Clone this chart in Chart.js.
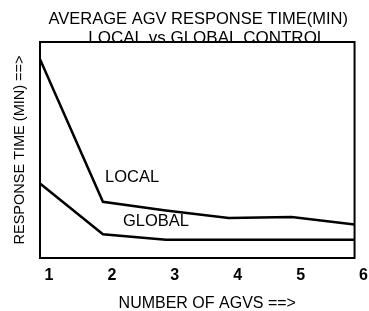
<!DOCTYPE html>
<html>
<head>
<meta charset="utf-8">
<script src="https://cdn.jsdelivr.net/npm/chart.js@4/dist/chart.umd.min.js"></script>
<style>
  html, body { margin: 0; padding: 0; background: #fff; }
  #wrap { width: 369px; height: 311px; }
</style>
</head>
<body>
<div id="wrap"><canvas id="c" width="369" height="311"></canvas></div>
<script>
// number of AGVs
const agvCounts = ['1', '2', '3', '4', '5', '6'];
// response time (min)
const localTimes = [18.4, 5.2, 4.4, 3.7, 3.8, 3.1];
const globalTimes = [6.9, 2.2, 1.7, 1.7, 1.7, 1.7];
const titleLines = ['AVERAGE AGV RESPONSE TIME(MIN)', 'LOCAL vs GLOBAL CONTROL'];
const xTitle = 'NUMBER OF AGVS ==>';

const FONT = '"Liberation Sans", Arial, sans-serif';

// box around plot + titles + series names
const decor = {
  id: 'decor',
  afterDraw(chart) {
    const ctx = chart.ctx, a = chart.chartArea;
    const x = chart.scales.x, y = chart.scales.y;
    const mid = (a.left + a.right) / 2;
    ctx.save();
    ctx.fillStyle = '#000';
    ctx.textAlign = 'center';
    ctx.textBaseline = 'alphabetic';
    ctx.font = '16.5px ' + FONT;
    ctx.fillText(titleLines[0], mid + 1, 24);
    ctx.font = '17px ' + FONT;
    ctx.fillText(titleLines[1], mid + 10, 43);
    ctx.font = '16px ' + FONT;
    ctx.fillText(xTitle, mid + 10, 308);

    ctx.strokeStyle = '#000';
    ctx.lineWidth = 2;
    ctx.strokeRect(a.left, a.top, a.right - a.left, a.bottom - a.top);

    ctx.textAlign = 'left';
    ctx.textBaseline = 'middle';
    ctx.font = '16.5px ' + FONT;
    ctx.fillText('LOCAL', x.getPixelForValue(0) + 65, y.getPixelForValue(localTimes[1]) - 24);
    ctx.fillText('GLOBAL', x.getPixelForValue(1) + 20, y.getPixelForValue(globalTimes[2]) - 18);
    ctx.restore();
  }
};

new Chart(document.getElementById('c'), {
  type: 'line',
  data: {
    labels: agvCounts,
    datasets: [{
      label: 'LOCAL',
      data: localTimes,
      borderColor: '#000',
      borderWidth: 2.5,
      pointRadius: 0,
      tension: 0,
      fill: false
    }, {
      label: 'GLOBAL',
      data: globalTimes,
      borderColor: '#000',
      borderWidth: 2.5,
      pointRadius: 0,
      tension: 0,
      fill: false
    }]
  },
  options: {
    responsive: false,
    animation: false,
    layout: { padding: { top: 42, right: 11, left: 0, bottom: 0 } },
    plugins: {
      legend: { display: false },
      tooltip: { enabled: false },
      title: { display: false }
    },
    scales: {
      x: {
        type: 'category',
        offset: false,
        grid: { display: false, drawTicks: false },
        border: { display: false },
        ticks: {
          color: '#000',
          font: { family: FONT, size: 16, weight: 'bold', lineHeight: 1 },
          padding: 10,
          labelOffset: 9,
          maxRotation: 0,
          autoSkip: false
        },
        title: { display: false },
        afterFit: s => { s.height = 53; }
      },
      y: {
        min: 0,
        max: 20,
        grid: { display: false, drawTicks: false },
        border: { display: false },
        ticks: { display: false },
        title: {
          display: true,
          text: 'RESPONSE TIME (MIN) ==>',
          color: '#000',
          font: { family: FONT, size: 14.5, lineHeight: 1 },
          padding: { top: 13, bottom: 0 }
        },
        afterFit: s => { s.width = 40; }
      }
    }
  },
  plugins: [decor]
});
</script>
</body>
</html>
